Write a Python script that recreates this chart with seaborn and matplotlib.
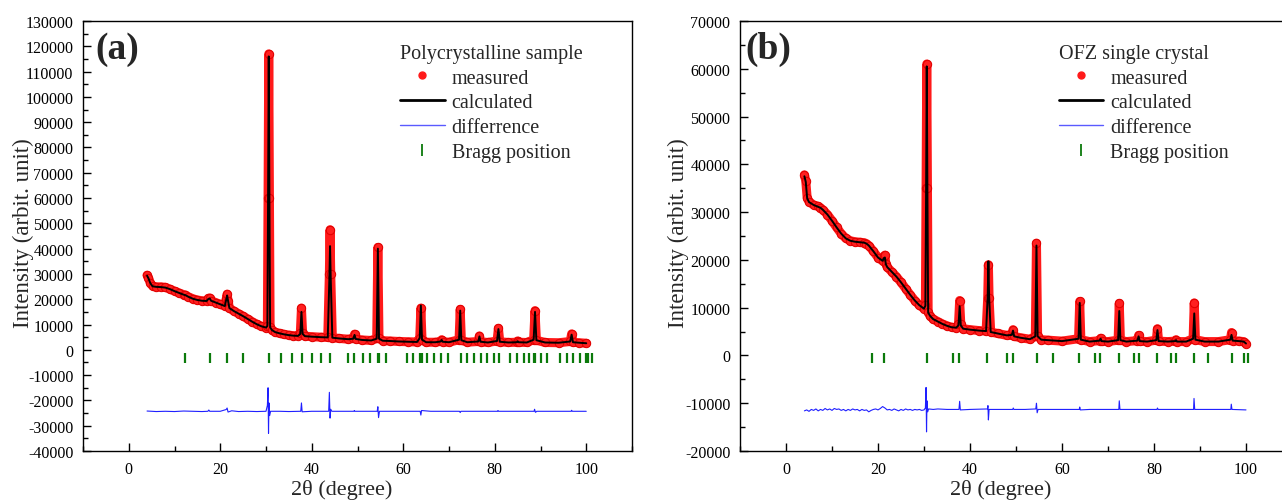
import matplotlib
matplotlib.use("Agg")
import matplotlib.pyplot as plt
from matplotlib.lines import Line2D
from matplotlib.ticker import MultipleLocator
import seaborn as sns
import pandas as pd

# ---------------- Panel (a): polycrystalline sample ----------------
a_two_theta = [4.0, 4.3, 4.7, 5.2, 6.0, 7.0, 8.0, 9.0, 10.0, 11.0, 12.0, 12.4, 13.0, 14.0, 15.0,
               16.0, 17.0, 17.4, 17.7, 18.0, 19.0, 20.0, 21.0, 21.3, 21.5, 21.7, 22.0, 23.0, 24.0,
               25.0, 26.0, 27.0, 28.0, 29.0, 30.0, 30.3, 30.45, 30.6, 30.75, 30.9, 31.3, 32.0, 33.0,
               34.0, 35.0, 36.0, 37.0, 37.5, 37.75, 38.0, 38.5, 40.0, 42.0, 43.5, 43.85, 44.0, 44.15,
               44.5, 46.0, 48.0, 49.1, 49.35, 49.6, 51.0, 53.0, 54.2, 54.45, 54.7, 55.5, 57.0, 59.0,
               61.0, 63.0, 63.6, 63.85, 64.1, 65.0, 67.0, 68.2, 68.4, 68.6, 70.0, 72.2, 72.45, 72.7,
               74.0, 76.4, 76.65, 76.9, 78.5, 80.5, 80.8, 81.1, 83.0, 84.8, 85.0, 85.2, 87.0, 88.5,
               88.8, 89.1, 91.0, 94.0, 96.5, 96.8, 97.1, 98.5, 100.0]
a_measured = [29500, 28500, 26500, 25200, 24900, 24900, 24700, 24000, 23200, 22500, 21800, 21700, 21000, 20200, 19700,
              19400, 19300, 20300, 20500, 19400, 18700, 18000, 17300, 20000, 22000, 19500, 16500, 15300, 14300,
              13300, 12200, 11100, 10100, 9300, 8800, 9500, 60000, 117000, 60000, 9000, 7800, 7000, 6500,
              6100, 5800, 5600, 5500, 6500, 16500, 6500, 5400, 5200, 5000, 4900, 30000, 47500, 30000,
              4800, 4500, 4200, 4500, 6200, 4300, 3900, 3700, 4500, 40500, 4500, 3600, 3500, 3300,
              3200, 3100, 4500, 16500, 4000, 3000, 3000, 3300, 4000, 3200, 3000, 4000, 16000, 3800,
              3000, 3300, 5500, 3200, 2900, 3500, 8500, 3200, 2900, 3000, 3500, 3000, 2900, 4000,
              15500, 3800, 2900, 2800, 3300, 6300, 3000, 2800, 2600]
a_calculated = [29300, 28300, 26400, 25100, 24900, 24800, 24600, 24000, 23200, 22500, 21800, 21600, 21000, 20200, 19700,
                19400, 19300, 20100, 20300, 19400, 18700, 18000, 17300, 19800, 21500, 19400, 16500, 15300, 14300,
                13300, 12200, 11100, 10100, 9300, 8800, 9400, 58000, 116000, 58000, 8900, 7800, 7000, 6500,
                6100, 5800, 5600, 5500, 6300, 15000, 6300, 5400, 5200, 5000, 4900, 28000, 41000, 28000,
                4800, 4500, 4200, 4400, 5900, 4300, 3900, 3700, 4400, 40000, 4400, 3600, 3500, 3300,
                3200, 3100, 4600, 17500, 4000, 3000, 3000, 3300, 3900, 3200, 3000, 4000, 15500, 3800,
                3000, 3300, 5300, 3200, 2900, 3500, 8200, 3200, 2900, 3000, 3400, 3000, 2900, 4000,
                15000, 3800, 2900, 2800, 3300, 6000, 3000, 2800, 2600]
a_diff_theta = [4, 6, 8, 10, 12, 14, 16, 17.3, 17.5, 17.7, 18, 20, 21.3, 21.5, 21.7, 22.5, 24, 26, 28,
                30, 30.3, 30.45, 30.55, 30.65, 30.8, 31, 33, 35, 37.6, 37.75, 37.9, 40, 43.7, 43.85,
                44.0, 44.15, 44.4, 47, 49.2, 49.3, 49.45, 52, 54.3, 54.45, 54.6, 54.8, 58, 63.7, 63.85,
                64, 66, 72.3, 72.45, 72.6, 76, 80.6, 80.7, 80.85, 85, 88.6, 88.7, 88.9, 89.2, 93, 96.7,
                96.8, 96.95, 100]
a_difference = [-24200, -24400, -24300, -24400, -24200, -24300, -24400, -24300, -23800, -24300, -24300, -24300,
                -23600, -23000, -24600, -24100, -24400, -24300, -24400, -24300, -22000, -15000, -33000, -21000,
                -26000, -24300, -24300, -24400, -24300, -21000, -24500, -24300, -24300, -16800, -27000, -23500,
                -24300, -24300, -24300, -24000, -24300, -24300, -24300, -22500, -26800, -24300, -24300, -24300,
                -25800, -24000, -24300, -24300, -24800, -24300, -24300, -24300, -24000, -24300, -24300, -24300,
                -23500, -24700, -24300, -24300, -24300, -23900, -24300, -24300]
a_bragg = [12.4, 17.7, 21.5, 25.0, 30.6, 33.3, 35.7, 37.9, 40.1, 42.1, 44.0, 47.9, 49.3, 51.2, 52.8,
           54.4, 54.8, 56.3, 60.8, 62.2, 63.6, 64.0, 65.2, 66.7, 68.3, 69.8, 72.7, 74.0, 75.4, 76.9,
           78.3, 79.8, 80.9, 83.4, 84.9, 86.3, 87.4, 88.5, 88.9, 90.0, 91.4, 94.3, 95.8, 97.2, 98.7,
           100.0, 100.4, 101.2]

# ---------------- Panel (b): OFZ single crystal ----------------
b_two_theta = [4.0, 4.3, 4.6, 5.0, 6.0, 7.0, 7.5, 8.0, 9.0, 10.0, 11.0, 12.0, 13.0, 14.0, 15.0, 16.0,
               17.0, 17.5, 18.0, 19.0, 20.0, 21.0, 21.3, 21.5, 21.7, 22.0, 23.0, 24.0, 25.0, 26.0, 27.0,
               28.0, 29.0, 30.0, 30.3, 30.45, 30.6, 30.75, 30.9, 31.3, 32.0, 33.0, 34.0, 35.0, 36.0, 37.0,
               37.5, 37.75, 38.0, 38.5, 40.0, 42.0, 43.5, 43.85, 44.0, 44.15, 44.5, 46.0, 48.0, 49.1,
               49.35, 49.6, 51.0, 53.0, 54.2, 54.45, 54.7, 55.5, 57.0, 60.0, 63.6, 63.85, 64.1, 66.0,
               68.2, 68.4, 68.6, 70.0, 72.2, 72.45, 72.7, 74.0, 76.4, 76.65, 76.9, 78.5, 80.5, 80.75,
               81.0, 83.0, 84.6, 84.8, 85.0, 87.0, 88.5, 88.75, 89.0, 91.0, 94.0, 96.6, 96.85, 97.1,
               98.5, 99.5, 100.0]
b_measured = [37800, 36500, 33000, 32200, 31500, 31200, 30900, 30500, 29500, 28200, 26800, 25500, 24500, 24000, 23800, 23700,
              23600, 23400, 23000, 21800, 20500, 19800, 20800, 21000, 19200, 18500, 17500, 16500, 15300, 14000, 12700,
              11500, 10500, 9800, 10500, 35000, 61000, 35000, 9000, 8300, 7600, 7100, 6600, 6200, 5900, 5800,
              6500, 11500, 6500, 5600, 5400, 5200, 5100, 12000, 19000, 12000, 4900, 4600, 4200, 4300,
              5400, 4000, 3700, 3400, 4000, 23500, 4000, 3300, 3200, 3000, 3500, 11300, 3300, 2900,
              3100, 3600, 3000, 2900, 3200, 10900, 3200, 2900, 3100, 4200, 3000, 2900, 3200, 5600,
              3000, 2900, 3000, 3300, 2900, 2900, 3500, 11000, 3300, 2900, 2900, 3300, 4800, 3100,
              3000, 2900, 2500]
b_calculated = [37500, 36300, 32900, 32100, 31500, 31100, 30900, 30500, 29500, 28200, 26800, 25500, 24500, 24000, 23800, 23700,
                23600, 23400, 23000, 21800, 20500, 19800, 20400, 20500, 19100, 18500, 17500, 16500, 15300, 14000, 12700,
                11500, 10500, 9800, 10400, 33000, 60500, 33000, 9000, 8300, 7600, 7100, 6600, 6200, 5900, 5800,
                6300, 10300, 6300, 5600, 5400, 5200, 5100, 12500, 19700, 12500, 4900, 4600, 4200, 4300,
                5200, 4000, 3700, 3400, 4000, 23000, 4000, 3300, 3200, 3000, 3500, 11000, 3300, 2900,
                3100, 3500, 3000, 2900, 3200, 9300, 3200, 2900, 3100, 4000, 3000, 2900, 3200, 5300,
                3000, 2900, 3000, 3200, 2900, 2900, 3500, 8800, 3300, 2900, 2900, 3300, 4300, 3100,
                3000, 2900, 2500]
b_diff_theta = [4, 4.5, 5, 5.5, 6, 6.5, 7, 7.5, 8, 8.5, 9, 9.5, 10, 10.5, 11, 11.5, 12, 12.5, 13, 13.5,
                14, 14.5, 15, 15.5, 16, 16.5, 17, 17.5, 18, 18.5, 19, 19.5, 20, 20.5, 21, 21.5, 22, 22.5,
                23, 23.5, 24, 24.5, 25, 25.5, 26, 26.5, 27, 27.5, 28, 28.5, 29, 29.5, 30, 30.3, 30.45,
                30.55, 30.65, 30.8, 31, 32, 33, 35, 37.6, 37.75, 37.9, 40, 43.8, 43.9, 44.0, 44.15, 47,
                49.3, 49.4, 49.55, 52, 54.3, 54.45, 54.6, 54.8, 58, 63.75, 63.85, 64, 66, 72.35, 72.45,
                72.6, 76, 80.65, 80.75, 80.9, 85, 88.6, 88.7, 88.85, 93, 96.7, 96.8, 96.95, 100]
b_difference = [-11600, -11400, -11700, -11300, -11500, -11200, -11600, -11300, -11500, -11100, -11400, -11200,
                -11500, -11100, -11300, -11200, -11500, -11300, -11600, -11300, -11500, -11200, -11400, -11300,
                -11600, -11300, -11500, -11400, -11800, -11500, -11300, -11200, -11400, -11100, -10700, -11000,
                -11400, -11300, -11500, -11200, -11400, -11600, -11300, -11500, -11200, -11400, -11300, -11500,
                -11300, -11400, -11300, -11500, -11400, -11000, -6700, -16000, -9500, -11800, -11200, -11300,
                -11200, -11300, -11300, -9600, -11400, -11300, -11200, -10500, -13500, -11300, -11300, -11300,
                -11000, -11300, -11300, -11200, -10000, -12000, -11300, -11300, -11300, -10800, -11400, -11300,
                -11300, -9500, -11300, -11300, -11300, -11000, -11300, -11300, -11300, -9000, -11300, -11300,
                -11300, -10200, -11300, -11400]
b_bragg = [18.6, 21.4, 30.6, 36.2, 37.6, 43.8, 48.1, 49.4, 54.5, 58.0, 63.8, 67.2, 68.3, 72.5, 75.7,
           76.7, 80.7, 83.8, 84.8, 88.7, 91.8, 96.9, 99.6, 100.5]

panels = [
    dict(tag="(a)", title="Polycrystalline sample", x=a_two_theta, meas=a_measured, calc=a_calculated,
         dx=a_diff_theta, diff=a_difference, bragg=a_bragg, bragg_y=-3400,
         ylim=(-40000, 130000), major=10000, minor=5000,
         rect=[83 / 1282, 50 / 502, 549 / 1282, 430 / 502], ylab_x=-0.090, tag_x=0.022,
         diff_label="differrence"),
    dict(tag="(b)", title="OFZ single crystal", x=b_two_theta, meas=b_measured, calc=b_calculated,
         dx=b_diff_theta, diff=b_difference, bragg=b_bragg, bragg_y=-500,
         ylim=(-20000, 70000), major=10000, minor=5000,
         rect=[740 / 1282, 50 / 502, 552 / 1282, 430 / 502], ylab_x=-0.092, tag_x=0.009,
         diff_label="difference"),
]

sns.set_style("ticks")
plt.rcParams["font.family"] = ["Liberation Serif", "DejaVu Serif"]
plt.rcParams["axes.unicode_minus"] = False
plt.rcParams["axes.linewidth"] = 1.0

fig = plt.figure(figsize=(12.82, 5.02), dpi=100)

for p in panels:
    ax = fig.add_axes(p["rect"])
    meas_df = pd.DataFrame({"two_theta": p["x"], "intensity": p["meas"]})
    calc_df = pd.DataFrame({"two_theta": p["x"], "intensity": p["calc"]})
    diff_df = pd.DataFrame({"two_theta": p["dx"], "intensity": p["diff"]})
    bragg_df = pd.DataFrame({"two_theta": p["bragg"], "intensity": [p["bragg_y"]] * len(p["bragg"])})

    sns.lineplot(data=meas_df, x="two_theta", y="intensity", ax=ax, sort=False, estimator=None,
                 color="#ff1a1a", lw=6.5, solid_joinstyle="round", solid_capstyle="round",
                 marker="o", markersize=6, markeredgecolor="#e00000", markerfacecolor="#ff2020")
    sns.lineplot(data=calc_df, x="two_theta", y="intensity", ax=ax, sort=False, estimator=None,
                 color="black", lw=1.4)
    sns.lineplot(data=diff_df, x="two_theta", y="intensity", ax=ax, sort=False, estimator=None,
                 color="#1f1fff", lw=0.8)
    sns.scatterplot(data=bragg_df, x="two_theta", y="intensity", ax=ax, marker="|",
                    s=55, linewidth=1.6, color="#0b7a0b")

    ax.set_xlim(-10, 110)
    ax.set_ylim(*p["ylim"])
    ax.xaxis.set_major_locator(MultipleLocator(20))
    ax.xaxis.set_minor_locator(MultipleLocator(10))
    ax.yaxis.set_major_locator(MultipleLocator(p["major"]))
    ax.yaxis.set_minor_locator(MultipleLocator(p["minor"]))
    ax.tick_params(which="both", direction="in", top=False, right=False, labelsize=11.5,
                   colors="black")
    ax.tick_params(which="major", length=6, width=1.0)
    ax.tick_params(which="minor", length=3.5, width=1.0)
    ax.tick_params(axis="x", pad=7)
    ax.tick_params(axis="y", pad=7)
    for s in ax.spines.values():
        s.set_visible(True)
        s.set_color("black")

    ax.set_xlabel("2θ (degree)", fontsize=16)
    ax.set_ylabel("Intensity (arbit. unit)", fontsize=16.5)
    ax.xaxis.set_label_coords(0.472, -0.066)
    ax.yaxis.set_label_coords(p["ylab_x"], 0.51)

    ax.text(p["tag_x"], 0.936, p["tag"], transform=ax.transAxes, ha="left", va="center",
            fontsize=27, fontweight="bold")

    handles = [
        Line2D([], [], color="#ff1a1a", marker="o", ls="none", markersize=5),
        Line2D([], [], color="black", lw=2),
        Line2D([], [], color="#5a5aff", lw=1.0),
        Line2D([], [], color="#0b7a0b", marker="|", ls="none", markersize=8, mew=1.3),
    ]
    labels = ["measured", "calculated", p["diff_label"], "Bragg position"]
    ax.legend(handles, labels, title=p["title"], loc="upper left",
              bbox_to_anchor=(0.578, 0.947), frameon=False, fontsize=14.5,
              title_fontsize=14.5, borderpad=0, borderaxespad=0, handlelength=2.2,
              handletextpad=0.35, labelspacing=0.28, alignment="left")

fig.savefig("out.png", dpi=100)
